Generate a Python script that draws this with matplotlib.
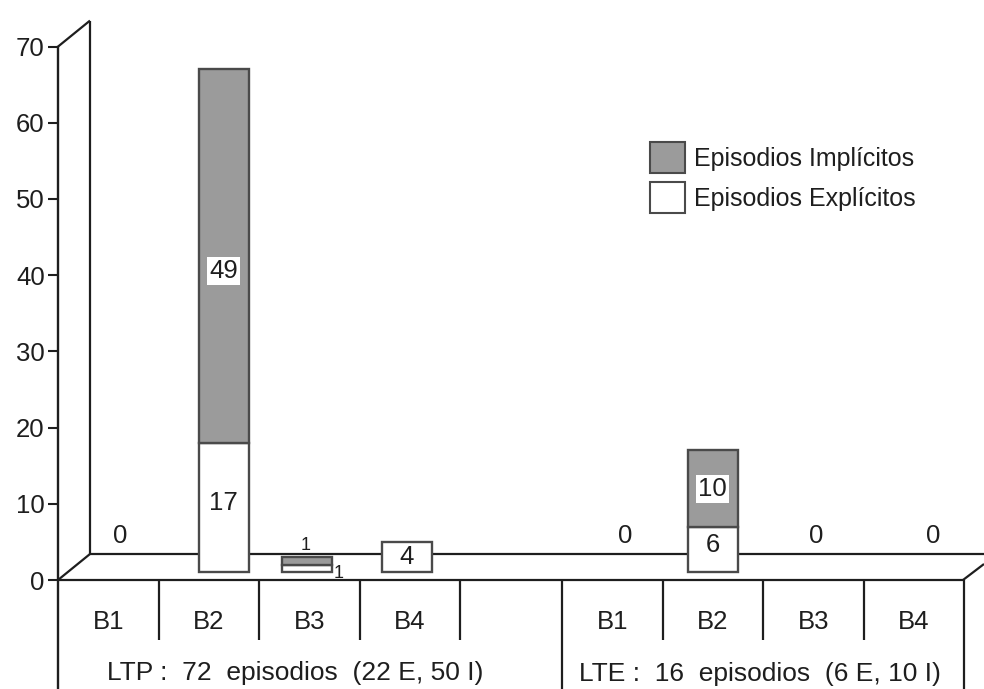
import matplotlib
matplotlib.use("Agg")
import matplotlib.pyplot as plt
from matplotlib.patches import Patch

plt.rcParams["font.family"] = ["Liberation Sans", "DejaVu Sans"]

# ---- data -------------------------------------------------------------
categories = ["B1", "B2", "B3", "B4"]
group_labels = ["LTP :  72  episodios  (22 E, 50 I)",
                "LTE :  16  episodios  (6 E, 10 I)"]
ltp_explicit = [0, 17, 1, 4]
ltp_implicit = [0, 49, 1, 0]
lte_explicit = [0, 6, 0, 0]
lte_implicit = [0, 10, 0, 0]
legend_labels = ["Episodios Implícitos", "Episodios Explícitos"]
yticks = [0, 10, 20, 30, 40, 50, 60, 70]

# ---- layout (x in pixels across the figure, y in value units) ---------
W, H = 984, 689
Y0_PX = 580.0          # pixel row of value 0
PX_PER_UNIT = 7.62
X_AXIS = 58
DEPTH_DX = 32
DEPTH_DY = 26 / PX_PER_UNIT
FLOOR_END = 963
SLOT_W = 100.5
GROUP_ORIGINS = [58, 562]
BAR_W = 50
BAR_BASE = 1.0
BAR_SHIFT = [[0, 15, -2, -3], [0, 0, 0, 0]]
ZERO_SHIFT = [[12, 0, 0, 0], [13, 0, 3, 19]]
INK = "#1e1e1e"
EDGE = "#4a4a4a"
GRAY = "#9b9b9b"
FS = 18.5

fig = plt.figure(figsize=(W / 100, H / 100), dpi=100)
ax = fig.add_axes([0, 0, 1, 1])
ax.set_xlim(0, W)
ax.set_ylim((Y0_PX - H) / PX_PER_UNIT, Y0_PX / PX_PER_UNIT)

# value axis on the front-left edge
for s in ["top", "right", "bottom"]:
    ax.spines[s].set_visible(False)
ax.spines["left"].set_position(("data", X_AXIS))
ax.spines["left"].set_bounds((Y0_PX - H) / PX_PER_UNIT, 70)
ax.spines["left"].set_linewidth(1.7)
ax.spines["left"].set_color(INK)
ax.set_yticks(yticks)
ax.tick_params(axis="y", length=7, width=1.5, color=INK, pad=2.5,
               labelsize=FS, labelcolor=INK)
ax.set_xticks([])

line_kw = dict(color=INK, lw=1.6, solid_capstyle="butt")
top = 70
# back wall and its top edge
ax.plot([X_AXIS, X_AXIS + DEPTH_DX], [top, top + DEPTH_DY], **line_kw)
ax.plot([X_AXIS + DEPTH_DX] * 2, [DEPTH_DY, top + DEPTH_DY], **line_kw, zorder=1)
# floor
ax.plot([X_AXIS, X_AXIS + DEPTH_DX], [0, DEPTH_DY], **line_kw)
ax.plot([X_AXIS + DEPTH_DX, FLOOR_END + 21], [DEPTH_DY, DEPTH_DY], **line_kw, zorder=1)
ax.plot([X_AXIS, FLOOR_END], [0, 0], **line_kw)
ax.plot([FLOOR_END, FLOOR_END + 21], [0, 16 / PX_PER_UNIT], **line_kw)

# category table under the floor
y_short = (Y0_PX - 640) / PX_PER_UNIT
y_bottom = (Y0_PX - H) / PX_PER_UNIT
for g, origin in enumerate(GROUP_ORIGINS):
    for i in range(1, len(categories) + 1):
        ends_group = (i == len(categories))
        y_end = y_bottom if (ends_group and g == 1) else y_short
        ax.plot([origin + i * SLOT_W] * 2, [0, y_end], **line_kw)
    for i, cat in enumerate(categories):
        ax.text(origin + (i + 0.5) * SLOT_W, (Y0_PX - 622) / PX_PER_UNIT, cat,
                ha="center", va="center", fontsize=FS, color=INK)
ax.plot([GROUP_ORIGINS[1]] * 2, [0, y_bottom], **line_kw)
ax.text(295, (Y0_PX - 673) / PX_PER_UNIT, group_labels[0], ha="center",
        va="center", fontsize=19, color=INK)
ax.text(760, (Y0_PX - 674) / PX_PER_UNIT, group_labels[1], ha="center",
        va="center", fontsize=19, color=INK)

# stacked bars
series = [(ltp_explicit, ltp_implicit), (lte_explicit, lte_implicit)]
for g, (expl, impl) in enumerate(series):
    origin = GROUP_ORIGINS[g]
    for i in range(len(categories)):
        xc = origin + (i + 0.5) * SLOT_W + BAR_SHIFT[g][i]
        e, m = expl[i], impl[i]
        if e + m == 0:
            ax.text(xc + ZERO_SHIFT[g][i], 5.8, "0", ha="center", va="center",
                    fontsize=FS, color=INK)
            continue
        if e:
            ax.bar(xc, e, width=BAR_W, bottom=BAR_BASE, color="white",
                   edgecolor=EDGE, lw=1.7, zorder=3)
        if m:
            ax.bar(xc, m, width=BAR_W, bottom=BAR_BASE + e, color=GRAY,
                   edgecolor=EDGE, lw=1.7, zorder=3)
        if e >= 4 and m >= 4:
            ax.text(xc, BAR_BASE + e / 2 + 0.6, str(e), ha="center", va="center",
                    fontsize=FS, color=INK, zorder=4)
            ax.text(xc, BAR_BASE + e + m / 2 - (2.0 if m > 20 else 0), str(m),
                    ha="center", va="center", fontsize=FS, color=INK, zorder=4,
                    bbox=dict(boxstyle="square,pad=0.08", fc="white", ec="none"))
        elif m == 0:
            ax.text(xc, BAR_BASE + e / 2, str(e), ha="center", va="center",
                    fontsize=FS, color=INK, zorder=4)
        else:
            ax.text(xc - 2, BAR_BASE + e + m + 0.4, str(m), ha="center",
                    va="bottom", fontsize=13, color=INK, zorder=4)
            ax.text(xc + BAR_W / 2 + 1, BAR_BASE + e / 2 - 0.6, str(e),
                    ha="left", va="center", fontsize=13, color=INK, zorder=4)

# legend
handles = [Patch(facecolor=GRAY, edgecolor=EDGE, lw=1.5),
           Patch(facecolor="white", edgecolor=EDGE, lw=1.5)]
leg = ax.legend(handles, legend_labels, loc="upper left",
                bbox_to_anchor=(650 / W, 1 - 142 / H), frameon=False,
                fontsize=18, handlelength=1.4, handleheight=1.53,
                handletextpad=0.36, labelspacing=0.36, borderpad=0,
                borderaxespad=0)
for t in leg.get_texts():
    t.set_color(INK)

fig.savefig("out.png", dpi=100)
